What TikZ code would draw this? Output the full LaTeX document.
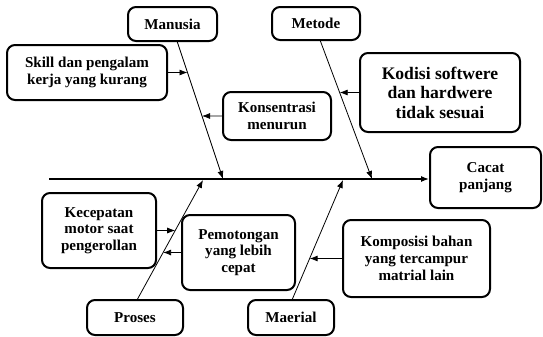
\documentclass[tikz,border=0pt]{standalone}
\usepackage{fontspec}
\setmainfont{Liberation Serif}
\usetikzlibrary{arrows.meta,calc}
\begin{document}
\begin{tikzpicture}[x=0.75pt,y=-0.75pt,
  box/.style 2 args={draw,line width=1.5pt,rounded corners=6pt,align=center,inner sep=0pt,
    minimum width=#1*0.75pt,minimum height=#2*0.75pt,
    font=\fontsize{11.3}{12.5}\selectfont\bfseries},
  bigbox/.style={font=\fontsize{13.2}{14.6}\selectfont\bfseries},
  bone/.style={line width=0.6pt,-{Latex[length=6pt,width=4.5pt]}},
  spine/.style={line width=0.9pt,-{Latex[length=6pt,width=4.5pt]}}]
\useasboundingbox (0,0) rectangle (543,336);
% category boxes
\node[box={89}{34}] (manusia) at (172.5,24) {Manusia};
\node[box={88}{33}] (metode) at (316,23.5) {Metode};
\node[box={96}{35}] (proses) at (135,317.5) {Proses};
\node[box={86}{35}] (maerial) at (291,317.5) {Maerial};
\node[box={111}{61}] (cacat) at (485.5,177.5) {Cacat\\panjang};
% cause boxes
\node[box={160}{55}] (skill) at (87,72.5) {Skill dan pengalam\\kerja yang kurang};
\node[box={108}{48}] (konsen) at (277,116) {Konsentrasi\\menurun};
\node[box={160}{79},bigbox] (kodisi) at (440,92.5) {Kodisi softwere\\dan hardwere\\tidak sesuai};
\node[box={114}{75}] (kecep) at (99,230.5) {Kecepatan\\motor saat\\pengerollan};
\node[box={113}{75}] (pemot) at (238.5,252.5) {Pemotongan\\yang lebih\\cepat};
\node[box={147}{77}] (kompo) at (416.5,258.5) {Komposisi bahan\\yang tercampur\\matrial lain};
% bone coordinates
\coordinate (mtop) at (177,41);
\coordinate (mend) at (223,179);
\coordinate (ttop) at (320,40);
\coordinate (tend) at (372,179);
\coordinate (pbot) at (137,300);
\coordinate (pend) at (203,180);
\coordinate (abot) at (292,300);
\coordinate (aend) at (343,180);
\coordinate (sstart) at (49,179);
% spine
\draw[spine] (sstart) -- (sstart -| cacat.west);
% main bones
\draw[bone] (mtop) -- (mend);
\draw[bone] (ttop) -- (tend);
\draw[bone] (pbot) -- (pend);
\draw[bone] (abot) -- (aend);
% sub-cause arrows
\draw[bone] (skill.east) -- (intersection cs: first line={(skill.east)--($(skill.east)+(50,0)$)}, second line={(mtop)--(mend)});
\draw[bone] (konsen.west) -- (intersection cs: first line={(konsen.west)--($(konsen.west)+(-50,0)$)}, second line={(mtop)--(mend)});
\draw[bone] (kodisi.west) -- (intersection cs: first line={(kodisi.west)--($(kodisi.west)+(-50,0)$)}, second line={(ttop)--(tend)});
\draw[bone] (kecep.east) -- (intersection cs: first line={(kecep.east)--($(kecep.east)+(50,0)$)}, second line={(pbot)--(pend)});
\draw[bone] (pemot.west) -- (intersection cs: first line={(pemot.west)--($(pemot.west)+(-50,0)$)}, second line={(pbot)--(pend)});
\draw[bone] (kompo.west) -- (intersection cs: first line={(kompo.west)--($(kompo.west)+(-50,0)$)}, second line={(abot)--(aend)});
\end{tikzpicture}
\end{document}
